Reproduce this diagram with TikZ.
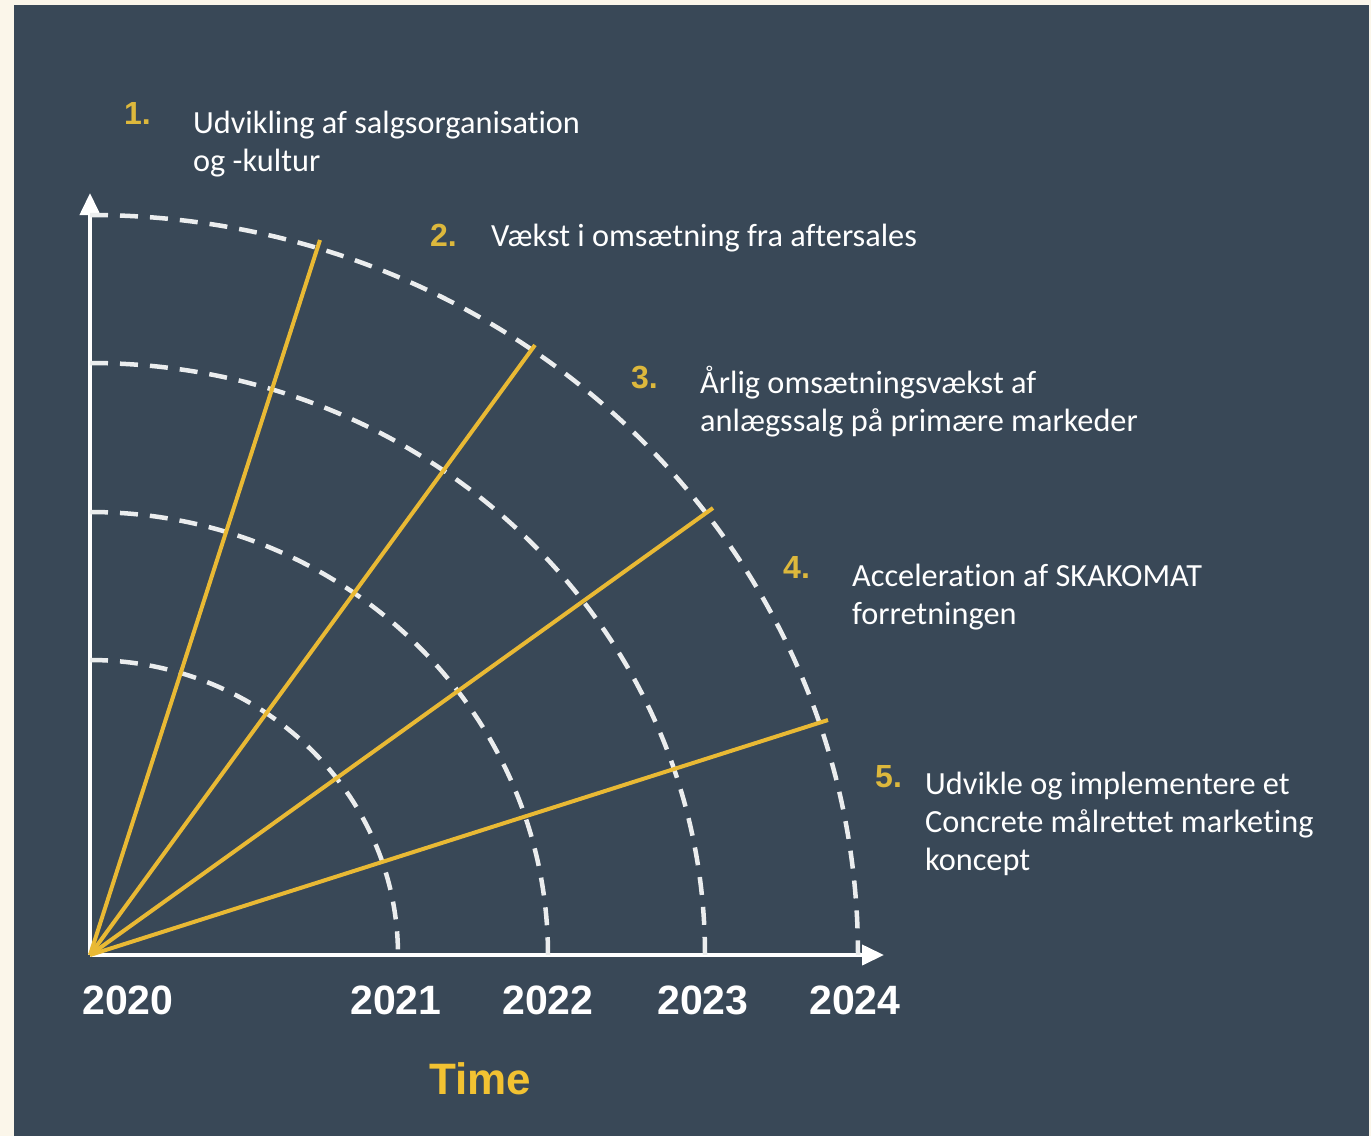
\documentclass[tikz,border=0pt]{standalone}
\usepackage{fontspec}
\setmainfont{Carlito}[Ligatures=NoCommon]
\newfontfamily\headfont{Liberation Sans}
\usepackage{tikz}
\usetikzlibrary{arrows.meta}

\definecolor{panel}{HTML}{394857}
\definecolor{paper}{HTML}{FBF6EA}
\definecolor{gold}{HTML}{E9B934}
\definecolor{numgold}{HTML}{DDB83C}
\definecolor{timegold}{HTML}{F2C232}

\begin{document}
\begin{tikzpicture}[x=1pt, y=-1pt]
    \tikzstyle{axis} = [draw=white, line width=4pt, -{Triangle[length=22pt, width=20pt]}]
    \tikzstyle{ring} = [draw=white!90!panel, line width=4.5pt, dash pattern=on 18pt off 12pt]
    \tikzstyle{ray} = [draw=gold, line width=4pt]
    \tikzstyle{num} = [anchor=west, inner sep=0pt, text=numgold, font=\headfont\bfseries\fontsize{32}{32}\selectfont]
    \tikzstyle{year} = [inner sep=0pt, text=white, font=\headfont\bfseries\fontsize{41}{41}\selectfont]
    \tikzstyle{txt} = [anchor=west, inner sep=0pt, align=left, text=white, font=\fontsize{32.3}{38}\selectfont]

    \useasboundingbox (0,0) rectangle (1371,1136);
    \fill[paper] (0,0) rectangle (1371,1136);
    \fill[panel] (14,5) rectangle (1369,1136);

    \coordinate (o) at (90,955);
    \coordinate (ytip) at (90,193);
    \coordinate (xtip) at (884,955);

    \draw [axis] (o) -- (ytip);
    \draw [axis] (o) -- (xtip);

    % year rings
    \draw [ring] (90,660) arc[start angle=-90, end angle=0, x radius=308, y radius=295];
    \draw [ring] (90,512) arc[start angle=-90, end angle=0, x radius=458, y radius=443];
    \draw [ring] (90,363) arc[start angle=-90, end angle=0, x radius=615, y radius=592];
    \draw [ring] (90,215) arc[start angle=-90, end angle=0, x radius=768, y radius=740];

    \coordinate (e1) at (320,240);
    \coordinate (e2) at (535,345);
    \coordinate (e3) at (713,508);
    \coordinate (e4) at (828,720);

    \draw [ray] (o) -- (e1);
    \draw [ray] (o) -- (e2);
    \draw [ray] (o) -- (e3);
    \draw [ray] (o) -- (e4);

    \node [year] (y0) at (128,1000) {2020};
    \node [year] (y1) at (396,1000) {2021};
    \node [year] (y2) at (548,1000) {2022};
    \node [year] (y3) at (703,1000) {2023};
    \node [year] (y4) at (855,1000) {2024};
    \node [inner sep=0pt, text=timegold, font=\headfont\bfseries\fontsize{44}{44}\selectfont] (time) at (480,1079) {Time};

    \node [num] (n1) at (124,113) {1.};
    \node [num] (n2) at (430,235) {2.};
    \node [num] (n3) at (631,377) {3.};
    \node [num] (n4) at (783,567) {4.};
    \node [num] (n5) at (875,777) {5.};

    \node [txt] (t1) at (193,144) {Udvikling af salgsorganisation\\og -kultur};
    \node [txt] (t2) at (491,238) {Vækst i omsætning fra aftersales};
    \node [txt] (t3) at (700,402) {Årlig omsætningsvækst af\\anlægssalg på primære markeder};
    \node [txt] (t4) at (852,597) {Acceleration af SKAKOMAT\\forretningen};
    \node [txt] (t5) at (925,824) {Udvikle og implementere et\\Concrete målrettet marketing\\koncept};
\end{tikzpicture}
\end{document}
